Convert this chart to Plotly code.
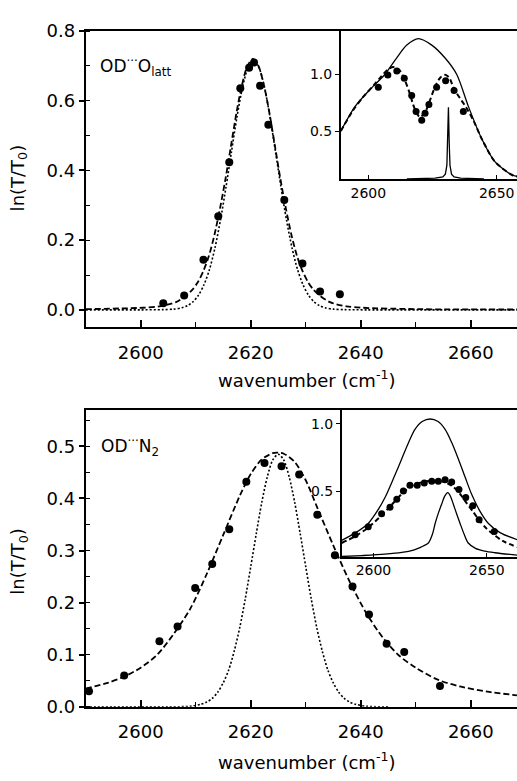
import plotly.graph_objects as go

# ---------------- top panel: OD...O_latt ----------------
top_pts_x = [2604.1, 2607.9, 2611.4, 2614.1, 2616.1, 2618.1, 2619.7, 2620.6, 2621.7, 2623.2, 2626.1, 2629.4, 2632.6, 2636.2]
top_pts_y = [0.019, 0.041, 0.144, 0.269, 0.424, 0.636, 0.695, 0.710, 0.643, 0.531, 0.315, 0.133, 0.053, 0.045]

top_dash_x = [2590, 2600.4, 2603.4, 2606.4, 2608.4, 2609.4, 2610.4, 2611.4, 2612.4, 2613.4, 2614.4, 2615.4, 2616.4,
              2617.4, 2618.4, 2619.4, 2620.4, 2621.4, 2622.4, 2623.4, 2624.4, 2625.4, 2626.4, 2627.4, 2628.4, 2629.4,
              2630.4, 2631.4, 2632.4, 2634.4, 2637.4, 2640.4, 2650.4, 2668.4]
top_dash_y = [0.002, 0.006, 0.010, 0.022, 0.043, 0.058, 0.080, 0.112, 0.155, 0.215, 0.290, 0.375, 0.470,
              0.565, 0.645, 0.700, 0.720, 0.700, 0.645, 0.565, 0.470, 0.375, 0.290, 0.215, 0.155, 0.112,
              0.080, 0.058, 0.043, 0.022, 0.010, 0.006, 0.002, 0.001]

top_dot_x = [2590, 2600, 2604, 2606, 2607.5, 2608.5, 2609.5, 2610.5, 2611.5, 2612.5, 2613.5, 2614.5, 2615.5, 2616.5,
             2617.5, 2618.5, 2619.5, 2620.5, 2621.5, 2622.5, 2623.5, 2624.5, 2625.5, 2626.5, 2627.5, 2628.5, 2629.5,
             2630.5, 2631.5, 2632.5, 2633.5, 2635, 2637, 2641, 2668.4]
top_dot_y = [0, 0, 0.0005, 0.002, 0.006, 0.012, 0.023, 0.042, 0.072, 0.116, 0.178, 0.258, 0.352, 0.454,
             0.554, 0.638, 0.695, 0.715, 0.695, 0.638, 0.554, 0.454, 0.352, 0.258, 0.178, 0.116, 0.072,
             0.042, 0.023, 0.012, 0.006, 0.002, 0.0005, 0, 0]

# top inset
ti_pts_x = [2603.9, 2607.6, 2611.1, 2614.0, 2616.9, 2618.6, 2620.8, 2622.1, 2623.6, 2626.6, 2630.1, 2633.4, 2637.0]
ti_pts_y = [0.886, 0.994, 1.029, 0.966, 0.814, 0.672, 0.595, 0.657, 0.734, 0.886, 0.943, 0.857, 0.672]

ti_solid_x = [2589.3, 2594.8, 2600, 2606.5, 2611, 2615, 2619.5, 2624.7, 2629.9, 2634.4, 2639, 2644.2, 2649.3, 2655.8, 2658]
ti_solid_y = [0.50, 0.715, 0.85, 1.00, 1.143, 1.257, 1.314, 1.257, 1.143, 1.00, 0.715, 0.43, 0.23, 0.115, 0.10]

ti_dash_x = [2589.3, 2594, 2598, 2602, 2605, 2607.5, 2609.7, 2612, 2614, 2616, 2618, 2620, 2622, 2624, 2626,
             2628, 2629.9, 2631.5, 2633.4, 2636.4, 2638.3, 2641, 2644.2, 2649.3, 2655.8, 2658]
ti_dash_y = [0.50, 0.68, 0.80, 0.90, 0.98, 1.04, 1.063, 1.04, 0.96, 0.84, 0.70, 0.625, 0.66, 0.77, 0.89,
             0.97, 0.995, 0.97, 0.871, 0.766, 0.70, 0.59, 0.43, 0.23, 0.115, 0.10]

ti_spike_x = [2615, 2626, 2629, 2630, 2630.6, 2630.9, 2631.2, 2631.5, 2631.8, 2632.4, 2633.4, 2636, 2645]
ti_spike_y = [0.078, 0.085, 0.095, 0.12, 0.20, 0.40, 0.71, 0.40, 0.20, 0.12, 0.095, 0.085, 0.078]

# ---------------- bottom panel: OD...N2 ----------------
bot_pts_x = [2590.6, 2597.0, 2603.4, 2606.7, 2609.9, 2613.0, 2616.1, 2619.2, 2622.5, 2625.6, 2628.8, 2632.1,
             2635.3, 2638.5, 2641.5, 2644.7, 2647.9, 2654.4]
bot_pts_y = [0.030, 0.060, 0.126, 0.154, 0.228, 0.274, 0.341, 0.432, 0.468, 0.462, 0.446, 0.369,
             0.291, 0.231, 0.177, 0.121, 0.105, 0.040]

bot_dash_x = [2590, 2594, 2597, 2600, 2603, 2606, 2609, 2612, 2615, 2618, 2620, 2622, 2624, 2625, 2626, 2628,
              2630, 2632, 2635, 2638, 2641, 2644, 2647, 2650, 2654, 2658, 2663, 2668.4]
bot_dash_y = [0.035, 0.046, 0.058, 0.075, 0.100, 0.140, 0.188, 0.255, 0.330, 0.405, 0.447, 0.475, 0.487, 0.488,
              0.486, 0.470, 0.435, 0.385, 0.310, 0.240, 0.180, 0.133, 0.098, 0.075, 0.052, 0.039, 0.029, 0.022]

bot_dot_x = [2590, 2605, 2609, 2611, 2612, 2613, 2614, 2615, 2616, 2617, 2618, 2619, 2620, 2621, 2622, 2623, 2624,
             2625, 2626, 2627, 2628, 2629, 2630, 2631, 2632, 2633, 2634, 2635, 2636, 2637, 2638, 2639, 2641, 2645]
bot_dot_y = [0, 0, 0.001, 0.005, 0.009, 0.016, 0.028, 0.046, 0.071, 0.107, 0.152, 0.207, 0.269, 0.332, 0.392,
             0.441, 0.474, 0.485, 0.474, 0.441, 0.392, 0.332, 0.269, 0.207, 0.152, 0.107, 0.071, 0.046, 0.028,
             0.016, 0.009, 0.005, 0.001, 0]

# bottom inset
bi_pts_x = [2591.9, 2597.7, 2603.6, 2607.3, 2610.3, 2613.2, 2616.1, 2619.3, 2622.4, 2625.7, 2628.6, 2631.6,
            2634.5, 2637.7, 2640.7, 2643.8, 2646.6, 2653.3]
bi_pts_y = [0.176, 0.236, 0.332, 0.380, 0.440, 0.500, 0.543, 0.543, 0.560, 0.572, 0.572, 0.584,
            0.567, 0.512, 0.452, 0.392, 0.288, 0.200]

bi_broad_x = [2586, 2592, 2597.7, 2602, 2605.1, 2609, 2612.5, 2615.5, 2618.3, 2621.5, 2625, 2628.5, 2631.6,
              2634.5, 2637.4, 2640.5, 2643.3, 2647, 2650.7, 2656, 2663.4]
bi_broad_y = [0.135, 0.19, 0.26, 0.36, 0.452, 0.60, 0.74, 0.86, 0.957, 1.015, 1.034, 1.015, 0.957,
              0.86, 0.74, 0.60, 0.476, 0.35, 0.26, 0.19, 0.14]

bi_narrow_x = [2586, 2595, 2605, 2612.5, 2618, 2621, 2624.2, 2626, 2627.2, 2628.7, 2630.1, 2631.5, 2632.8,
               2634, 2635.2, 2636.7, 2638.2, 2640, 2641.8, 2645, 2649, 2653.6, 2663.4]
bi_narrow_y = [0.015, 0.022, 0.032, 0.045, 0.065, 0.085, 0.115, 0.18, 0.26, 0.34, 0.404, 0.465, 0.488,
               0.46, 0.404, 0.33, 0.26, 0.18, 0.115, 0.075, 0.055, 0.043, 0.025]

bi_dash_x = [2586, 2592, 2597.7, 2603.6, 2607.3, 2610.3, 2613.2, 2616.1, 2619.3, 2622.4, 2625.7, 2628.6, 2631.6,
             2634.5, 2637.7, 2640.7, 2643.8, 2646.6, 2650, 2653.3, 2657, 2663.4]
bi_dash_y = [0.115, 0.165, 0.23, 0.32, 0.385, 0.44, 0.49, 0.53, 0.555, 0.57, 0.575, 0.575, 0.565,
             0.54, 0.49, 0.42, 0.35, 0.285, 0.22, 0.175, 0.13, 0.085]

W, H = 517, 781
BLACK = "black"
FONT = "DejaVu Sans"

def px(v):
    return v / W

def py(v):
    return 1 - v / H

fig = go.Figure()

def line(x, y, xa, ya, dash="solid", width=1.2, shape="spline"):
    fig.add_trace(go.Scatter(x=x, y=y, xaxis=xa, yaxis=ya, mode="lines",
                             line=dict(color=BLACK, width=width, dash=dash, shape=shape, smoothing=0.8),
                             hoverinfo="skip", showlegend=False))

def dots(x, y, xa, ya, size=8):
    fig.add_trace(go.Scatter(x=x, y=y, xaxis=xa, yaxis=ya, mode="markers",
                             marker=dict(color=BLACK, size=size), hoverinfo="skip", showlegend=False))

# top main
line(top_dot_x, top_dot_y, "x", "y", dash="2px,2px", width=1.6)
line(top_dash_x, top_dash_y, "x", "y", dash="6px,3px", width=1.8)
dots(top_pts_x, top_pts_y, "x", "y")
# top inset
line(ti_solid_x, ti_solid_y, "x2", "y2", width=1.3)
line(ti_spike_x, ti_spike_y, "x2", "y2", width=1.3, shape="linear")
line(ti_dash_x, ti_dash_y, "x2", "y2", dash="5px,3px", width=2)
dots(ti_pts_x, ti_pts_y, "x2", "y2", size=7)
# bottom main
line(bot_dot_x, bot_dot_y, "x3", "y3", dash="2px,2px", width=1.6)
line(bot_dash_x, bot_dash_y, "x3", "y3", dash="6px,3px", width=1.8)
dots(bot_pts_x, bot_pts_y, "x3", "y3")
# bottom inset
line(bi_broad_x, bi_broad_y, "x4", "y4", width=1.3)
line(bi_narrow_x, bi_narrow_y, "x4", "y4", width=1.3)
line(bi_dash_x, bi_dash_y, "x4", "y4", dash="5px,3px", width=2)
dots(bi_pts_x, bi_pts_y, "x4", "y4", size=7)

main_tick_font = dict(family=FONT, size=18, color=BLACK)
inset_tick_font = dict(family=FONT, size=14, color=BLACK)

def main_x(domain, anchor):
    return dict(domain=domain, anchor=anchor, range=[2590, 2668.4], tick0=2600, dtick=20,
                ticks="inside", ticklen=7, tickwidth=1.5, tickcolor=BLACK,
                minor=dict(dtick=10, tick0=2590, ticks="inside", ticklen=5, tickwidth=1.2, tickcolor=BLACK),
                showline=True, linewidth=2, linecolor=BLACK, mirror=True,
                showgrid=False, zeroline=False, tickfont=main_tick_font, ticklabelstandoff=8)

def main_y(domain, anchor, rng, dt):
    return dict(domain=domain, anchor=anchor, range=rng, tick0=0, dtick=dt, tickformat=".1f",
                ticks="outside", ticklen=5, tickwidth=1.5, tickcolor=BLACK,
                minor=dict(dtick=dt / 2, tick0=0, ticks="inside", ticklen=4, tickwidth=1.2, tickcolor=BLACK),
                showline=True, linewidth=2, linecolor=BLACK, mirror=False,
                showgrid=False, zeroline=False, tickfont=main_tick_font)

def inset_x(domain, anchor, rng):
    return dict(domain=domain, anchor=anchor, range=rng, tickvals=[2600, 2650],
                ticks="inside", ticklen=4, tickwidth=1.2, tickcolor=BLACK,
                showline=True, linewidth=1.5, linecolor=BLACK, mirror=True,
                showgrid=False, zeroline=False, tickfont=inset_tick_font)

def inset_y(domain, anchor, rng):
    return dict(domain=domain, anchor=anchor, range=rng, tickvals=[0.5, 1.0], ticktext=["0.5", "1.0"],
                ticks="outside", ticklen=4, tickwidth=1.2, tickcolor=BLACK,
                showline=True, linewidth=1.5, linecolor=BLACK, mirror=False,
                showgrid=False, zeroline=False, tickfont=inset_tick_font)

fig.update_layout(
    width=W, height=H,
    margin=dict(l=0, r=0, t=0, b=0),
    paper_bgcolor="white", plot_bgcolor="rgba(0,0,0,0)",
    showlegend=False,
    xaxis=main_x([px(85.7), 1], "y"),
    yaxis=main_y([py(325), py(20.7)], "x", [-0.05, 0.8], 0.2),
    xaxis2=inset_x([px(340.7), 1], "y2", [2589.25, 2657.9]),
    yaxis2=inset_y([py(172.7), py(20.7)], "x2", [0.077, 1.38]),
    xaxis3=main_x([px(85.7), 1], "y3"),
    yaxis3=main_y([py(715), py(410)], "x3", [0, 0.57], 0.1),
    xaxis4=inset_x([px(341.7), 1], "y4", [2586, 2663.3]),
    yaxis4=inset_y([py(561), py(410)], "x4", [0.012, 1.101]),
)

# white backing for insets
for x0, y0, y1 in [(340.7, 172.7, 20.7), (341.7, 561, 410)]:
    fig.add_shape(type="rect", xref="paper", yref="paper", x0=px(x0), x1=1, y0=py(y0), y1=py(y1),
                  fillcolor="white", line=dict(width=0), layer="below")

ann_font = dict(family=FONT, size=18, color=BLACK)
annotations = [
    dict(text="wavenumber (cm<sup>-1</sup>)", x=px(306.7), y=py(378), xref="paper", yref="paper",
         showarrow=False, font=ann_font, xanchor="center", yanchor="middle"),
    dict(text="wavenumber (cm<sup>-1</sup>)", x=px(306.7), y=py(771), xref="paper", yref="paper",
         showarrow=False, font=ann_font, xanchor="center", yanchor="middle"),
    dict(text="ln(T/T<sub>0</sub>)", x=px(19), y=py(172), xref="paper", yref="paper", textangle=-90,
         showarrow=False, font=ann_font, xanchor="center", yanchor="middle"),
    dict(text="ln(T/T<sub>0</sub>)", x=px(19), y=py(566), xref="paper", yref="paper", textangle=-90,
         showarrow=False, font=ann_font, xanchor="center", yanchor="middle"),
    dict(text="OD<sup>···</sup>O<sub>latt</sub>", x=px(98), y=py(57), xref="paper", yref="paper",
         showarrow=False, font=dict(family=FONT, size=17, color=BLACK), xanchor="left", yanchor="middle"),
    dict(text="OD<sup>···</sup>N<sub>2</sub>", x=px(99), y=py(448), xref="paper", yref="paper",
         showarrow=False, font=dict(family=FONT, size=17, color=BLACK), xanchor="left", yanchor="middle"),
]
fig.update_layout(annotations=annotations)

page_fix = (
    "document.documentElement.style.margin='0';document.documentElement.style.overflow='hidden';"
    "document.body.style.margin='0';document.body.style.padding='0';document.body.style.overflow='hidden';"
    "var gd=document.getElementById('{plot_id}');"
    "gd.style.position='fixed';gd.style.top='0px';gd.style.left='0px';"
)

fig.write_html("out.html", config={"displayModeBar": False}, post_script=page_fix)
